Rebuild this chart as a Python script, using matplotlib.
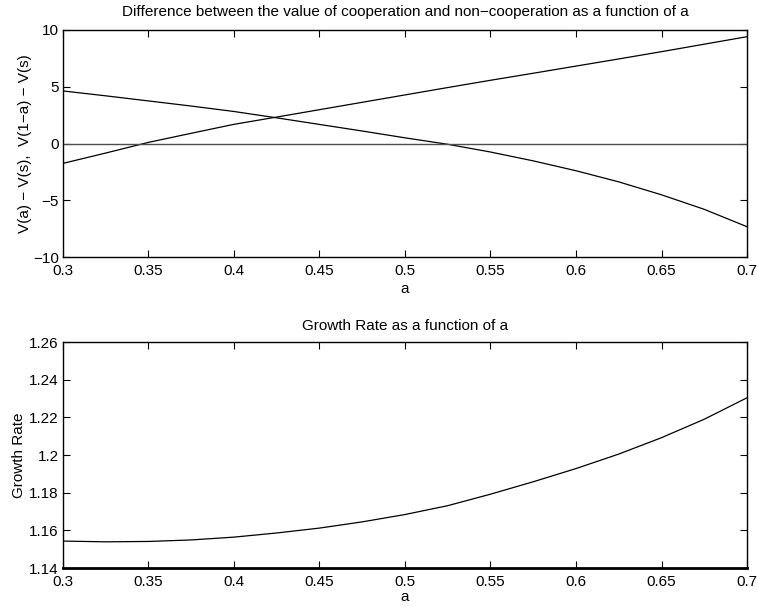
import matplotlib
matplotlib.use("Agg")
import matplotlib.pyplot as plt

plt.rcParams['font.family'] = ['Liberation Sans', 'DejaVu Sans']
plt.rcParams['font.size'] = 11
plt.rcParams['axes.unicode_minus'] = True

a = [0.3, 0.325, 0.35, 0.375, 0.4, 0.425, 0.45, 0.475, 0.5,
     0.525, 0.55, 0.575, 0.6, 0.625, 0.65, 0.675, 0.7]

# V(a) - V(s)
v_a = [-1.75, -0.84, 0.10, 0.90, 1.69, 2.33, 2.98, 3.63, 4.28,
       4.93, 5.57, 6.19, 6.82, 7.45, 8.09, 8.75, 9.41]
# V(1-a) - V(s)
v_1a = [4.63, 4.20, 3.75, 3.30, 2.82, 2.26, 1.68, 1.10, 0.50,
        -0.07, -0.75, -1.53, -2.40, -3.38, -4.52, -5.80, -7.33]
zero = [0.0] * len(a)

growth = [1.1543, 1.1539, 1.1541, 1.1549, 1.1564, 1.1586, 1.1612, 1.1645, 1.1684,
          1.1731, 1.1792, 1.1858, 1.1928, 1.2005, 1.2092, 1.2190, 1.2304]

xticks = [0.3, 0.35, 0.4, 0.45, 0.5, 0.55, 0.6, 0.65, 0.7]
xticklabels = ['0.3', '0.35', '0.4', '0.45', '0.5', '0.55', '0.6', '0.65', '0.7']

fig = plt.figure(figsize=(7.57, 6.06), dpi=100)
ax1 = fig.add_axes([0.0832, 0.5759, 0.9036, 0.3746])
ax2 = fig.add_axes([0.0832, 0.0627, 0.9036, 0.3729])

def style(ax):
    ax.tick_params(direction='in', top=True, right=True, length=5, width=0.8,
                   labelsize=11)
    ax.tick_params(axis='x', pad=5)
    ax.tick_params(axis='y', pad=3)
    for s in ax.spines.values():
        s.set_linewidth(1.0)
    ax.set_xlim(0.3, 0.7)
    ax.set_xticks(xticks)
    ax.set_xticklabels(xticklabels)

ax1.plot(a, v_a, color='k', lw=0.9)
ax1.plot(a, v_1a, color='k', lw=0.9)
ax1.plot(a, zero, color='0.3', lw=1.0)
style(ax1)
ax1.set_ylim(-10, 10)
ax1.set_yticks([-10, -5, 0, 5, 10])
ax1.set_yticklabels(['\u221210', '\u22125', '0', '5', '10'])
ax1.set_title('Difference between the value of cooperation and non\u2212cooperation as a function of a',
              fontsize=11, pad=10)
ax1.set_xlabel('a', fontsize=11, labelpad=3)
ax1.set_ylabel('V(a) \u2212 V(s),  V(1\u2212a) \u2212 V(s)', fontsize=11, labelpad=1)

ax2.plot(a, growth, color='k', lw=0.9)
style(ax2)
ax2.spines['bottom'].set_linewidth(2.0)
ax2.set_ylim(1.14, 1.26)
ax2.set_yticks([1.14, 1.16, 1.18, 1.2, 1.22, 1.24, 1.26])
ax2.set_yticklabels(['1.14', '1.16', '1.18', '1.2', '1.22', '1.24', '1.26'])
ax2.set_title('Growth Rate as a function of a', fontsize=11, pad=9)
ax2.set_xlabel('a', fontsize=11, labelpad=1)
ax2.set_ylabel('Growth Rate', fontsize=11, labelpad=2)

fig.savefig('out.png', dpi=100, facecolor='white')
